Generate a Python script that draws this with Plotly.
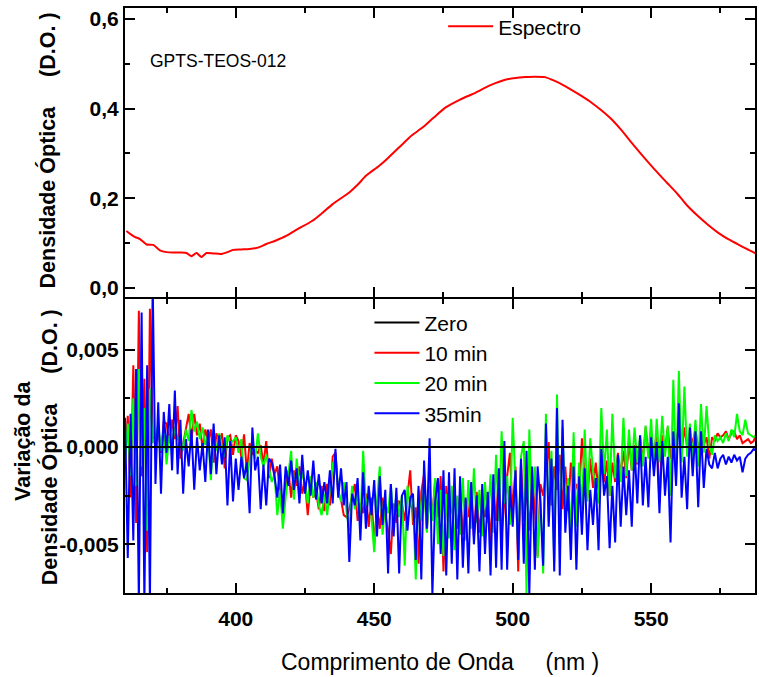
import plotly.graph_objects as go
from plotly.subplots import make_subplots

# ---------------- data ----------------
spec_nm = [360.5, 362, 363.5, 365.4, 367.8, 370.2, 372.6, 375, 377.4, 380, 382.2, 384, 385.8,
           387.6, 389.4, 392, 394.8, 397, 399, 402, 405, 408, 411, 414.5, 418.2, 422, 427.7,
           431, 435, 438, 441, 444, 447, 451.7, 455, 460.1, 463.5, 467.3, 471.5, 475.7, 481,
           486.5, 492, 497.3, 501, 504.5, 508, 511.7, 515, 518.9, 523.5, 528.5, 532, 535.7,
           539.5, 542.9, 547, 551.3, 555.5, 559.6, 563, 566.8, 570.5, 574, 577.5, 581.2, 584.5, 588]
spec_od = [0.127, 0.120, 0.114, 0.109, 0.097, 0.096, 0.084, 0.080, 0.079, 0.079, 0.078, 0.071, 0.078,
           0.069, 0.078, 0.077, 0.076, 0.080, 0.085, 0.086, 0.087, 0.090, 0.098, 0.106, 0.116, 0.130, 0.150,
           0.166, 0.187, 0.200, 0.213, 0.230, 0.250, 0.272, 0.290, 0.320, 0.340, 0.357, 0.380, 0.402, 0.420,
           0.435, 0.452, 0.464, 0.468, 0.470, 0.471, 0.470, 0.462, 0.450, 0.433, 0.413, 0.396, 0.376,
           0.350, 0.324, 0.294, 0.264, 0.236, 0.209, 0.184, 0.161, 0.141, 0.124, 0.110, 0.098, 0.087, 0.076]

# variation of optical density, in units of 1e-3 D.O., 1 nm steps from 360 nm
var_start_nm = 360
var_10min = [
    -0.5, 1.6, -2.6, 4.2, -3.9, 7.0, -1.5, 3.5, -5.4, 7.1, 0.5,
    0.4, 1.0, -0.3, 1.3, 1.2, 0.2, 1.4, 0.4, 2.1, -0.6,
    0.2, 0.9, 1.7, 0.4, 1.7, 0.6, 1.2, -0.1, 0.9, 0.3,
    0.9, -0.8, 0.7, 0.2, 0.7, -1.1, 0.5, 0.6, -0.4, 0.6,
    0.3, -0.5, 0.65, -1.3, 0.2, -0.4, -0.2, -0.3, 0.1, -0.9,
    0.3, -1.6, -0.6, -1.4, -1.0, -2.4, -3.5, -2.0, -1.2, -2.6,
    -1.2, -2.0, -1.0, -2.4, -1.8, -3.5, -1.9, -2.6, -2.3, -3.2,
    -2.0, -3.3, -1.9, -3.0, -0.5, -0.3, -2.4, -2.7, -3.5, -3.6,
    -3.2, -2.5, -1.9, -3.8, -2.9, -3.4, -2.4, -4.1, -2.6, -5.0,
    -3.1, -4.2, -2.6, -3.5, -4.3, -5.5, -2.9, -3.9, -2.8, -2.9,
    -3.8, -2.5, -1.2, -4.0, -3.1, -6.0, -2.3, -1.4, -4.3, -2.5,
    -3.5, -1.7, -3.6, -1.5, -6.4, -2.0, -3.8, -3.0, -2.2, -4.2,
    -2.4, -4.5, -2.7, -3.6, -2.1, -4.6, -2.3, -4.4, -2.9, -3.6,
    -2.5, -4.9, -2.0, -3.8, -1.3, -4.6, -2.8, -1.5, -0.3, -3.5,
    -1.0, -6.4, -0.8, -3.8, -2.0, -4.3, -1.5, -3.2, -5.6, -1.9,
    -2.5, -1.4, 0.25, -3.0, -1.0, -2.2, -0.4, -3.2, -1.0, -3.3,
    -0.8, -2.4, -1.9, -2.5, 0.45, -1.5, -2.6, -0.6, -2.1, -0.8,
    -2.3, -0.2, -1.8, -0.7, -2.5, -0.8, -1.8, -0.3, -1.4, -0.2,
    -1.6, 0.3, -1.2, 0.1, -0.9, 0.4, -0.7, 1.0, -0.3, 0.6,
    -0.5, 0.8, -2.9, 0.6, -0.2, 1.0, -0.6, 0.5, 0.1, 1.1,
    -0.3, 1.0, 0.0, 0.7, 0.2, 0.9, -0.2, 0.6, 0.1, 0.5,
    -0.6, 0.5, 0.3, 0.7, 0.5, 0.6, 0.8, 0.4, 0.7, 0.8,
    0.4, 0.6, 0.2, 0.3, 0.4, 0.2, 0.3, 0.7]
var_20min = [
    -0.8, 1.2, -1.5, 2.5, -2.0, 4.0, -1.0, 2.0, -4.3, 3.0, 0.2,
    0.5, 1.2, -0.2, 1.0, -0.9, 0.6, 0.2, 1.0, 0.4, 0.5,
    -0.2, 0.9, 0.3, 1.9, 0.8, 1.3, 0.4, 1.0, 0.1, 0.6,
    -1.7, 0.5, -0.2, 0.7, 0.0, -0.5, 0.6, 0.2, 0.3, 0.5,
    -0.3, 0.4, -1.6, -1.7, -0.8, 0.3, -0.6, 0.7, -0.5, -1.0,
    -0.4, -1.2, -1.8, -1.4, -3.5, -2.2, -4.2, -2.6, -1.5, -0.2,
    -2.7, -0.6, -2.2, -1.3, -2.0, -2.9, -1.5, -2.6, -1.8, -3.0,
    -3.5, -2.4, -3.5, -2.0, -0.9, -0.5, -2.2, -2.8, -1.8, -3.3,
    -4.3, -2.0, -3.2, -2.3, -3.9, -0.2, -3.0, -2.5, -3.6, -5.4,
    -2.8, -1.0, -4.5, -2.9, -3.4, -1.9, -4.0, -2.4, -3.6, -2.5,
    -6.1, -2.0, -3.1, -2.6, -6.8, -2.2, -3.8, -1.9, -4.4, -2.0,
    -3.8, -1.6, -5.0, -2.2, -5.6, -2.4, -4.7, -2.0, -5.3, -2.5,
    -4.5, -1.6, -4.8, -1.7, -4.2, -1.1, -3.9, -2.2, -4.6, -1.8,
    -3.9, -1.4, -4.4, -0.4, -3.8, 0.8, -2.9, -1.5, -4.0, 1.5,
    -2.2, -5.3, -0.5, 0.3, -7.6, 0.9, -3.2, -1.0, -5.7, -2.4,
    -6.5, 1.7, -3.8, -0.2, -5.9, 2.7, -5.0, 1.0, -3.4, -1.6,
    -4.7, 0.75, -4.1, -0.8, -3.2, 0.9, -2.8, 0.45, -1.2, -2.0,
    -2.9, 2.0, -1.4, 0.9, -2.5, 1.7, -1.6, -0.5, -1.8, 1.5,
    -1.5, 0.9, -1.2, 1.0, -0.8, 0.6, -1.0, 1.1, -0.6, 1.45,
    -1.2, 1.45, -0.8, 1.6, -0.5, 1.1, -2.5, 3.45, -1.6, 3.9,
    -0.8, 3.1, -0.5, 1.2, -0.6, 1.4, -1.0, 2.2, -0.3, 2.1,
    0.1, -0.4, 0.6, 0.3, 0.5, 0.2, 0.7, 0.3, 0.9, 0.5,
    1.7, 0.8, 0.6, 1.4, 0.7, 0.6, 0.5, 0.6]
var_35min = [
    1.5, -5.7, 1.7, -4.8, 4.0, -8.0, 6.9, -8.0, 4.2, -8.0, 8.5,
    -1.9, 2.3, -2.4, 1.8, -0.3, 2.2, -1.2, 2.9, -1.4, 1.4,
    -2.4, 0.4, -1.0, 0.9, -2.2, 0.5, -1.2, 0.2, -1.8, 0.9,
    -1.4, 1.2, -1.4, 0.6, -0.9, 0.5, -3.0, 0.3, -2.8, -0.6,
    -2.2, -0.5, -1.6, -0.8, -3.4, 1.0, -1.2, -0.5, -3.2, -0.9,
    -3.0, -0.6, -0.8, -1.5, -2.6, -0.9, -3.4, -1.0, -2.0, -0.7,
    -2.2, -1.1, -2.9, -0.4, -2.4, -1.2, -2.5, -0.7, -2.7, -1.4,
    -2.9, -1.8, -2.9, -1.2, -2.9, -0.1, -2.6, -1.1, -3.0, -1.8,
    -5.9, -2.4, -3.0, -1.6, -4.8, -1.3, -4.2, -2.0, -3.5, -1.7,
    -4.6, -1.5, -4.0, -2.2, -6.5, -1.9, -4.6, -2.1, -6.5, -2.5,
    -2.2, -4.3, -2.6, -2.4, -5.8, -2.0, -6.8, -0.7, -4.2, 0.45,
    -7.6, -2.8, -1.6, -5.5, -1.2, -6.6, -1.3, -6.0, -1.1, -6.8,
    -1.5, -6.2, -2.6, -6.5, -1.8, -5.0, -2.5, -6.4, -1.9, -5.5,
    -2.3, -6.6, -1.4, -6.2, -1.1, -6.3, 0.3, -6.3, -2.0, -4.1,
    -1.2, -5.8, -0.6, -6.0, -0.2, -7.6, -1.0, -6.3, -1.0, -2.8,
    -6.1, 1.2, -4.1, -0.6, -6.4, 2.0, -6.6, 1.4, -4.4, -2.0,
    -5.8, -1.0, -6.3, -1.5, -4.5, -1.1, -5.3, -2.2, -4.0, -1.6,
    -5.3, -0.1, -2.5, -1.5, -5.2, -2.0, -4.9, -0.4, -4.1, -1.0,
    -3.5, -1.2, -4.1, 0.0, -2.9, 0.6, -3.0, -0.5, -3.1, 0.5,
    -1.5, 0.25, -3.4, 0.3, -2.5, -0.5, -4.9, 0.8, -2.0, 2.25,
    -2.6, -0.5, -3.2, 1.0, -1.5, 0.8, -3.1, 0.8, -2.1, -0.1,
    -0.9, -1.1, -0.3, -1.1, -0.6, -0.4, -0.9, -0.5, -0.8, -0.4,
    -0.7, -0.5, -1.3, -0.6, -0.4, -0.3, -0.1, -0.2]

series_names = ["10 min", "20 min", "35min"]
series_colors = ["#ff0000", "#00ff00", "#0000ff"]
x_ticks = [400, 450, 500, 550]
top_y_ticks = [0.0, 0.2, 0.4, 0.6]
top_y_labels = ["0,0", "0,2", "0,4", "0,6"]
bot_y_ticks = [-0.005, 0.0, 0.005]
bot_y_labels = ["-0,005", "0,000", "0,005"]

# ---------------- figure ----------------
fig = make_subplots(rows=2, cols=1, shared_xaxes=True, vertical_spacing=0)

fig.add_trace(go.Scatter(x=spec_nm, y=spec_od, mode="lines", name="Espectro",
                         line=dict(color="#ff0000", width=2, shape="spline", smoothing=0.6),
                         legend="legend"), row=1, col=1)

for i, (name, vals, col) in enumerate(zip(series_names, [var_10min, var_20min, var_35min], series_colors)):
    xs = [var_start_nm + k for k in range(len(vals))]
    fig.add_trace(go.Scatter(x=xs, y=[v * 1e-3 for v in vals], mode="lines", name=name,
                             line=dict(color=col, width=2), legend="legend2", legendrank=i + 2),
                  row=2, col=1)

fig.add_trace(go.Scatter(x=[360, 588], y=[0, 0], mode="lines", name="Zero",
                         line=dict(color="black", width=2), legend="legend2", legendrank=1),
              row=2, col=1)

tickfont = dict(family="Liberation Sans", size=21, color="black", weight="bold")
common = dict(showline=True, linewidth=2, linecolor="black", mirror="allticks",
              ticks="inside", ticklen=10, tickwidth=2, tickcolor="black",
              showgrid=False, zeroline=False, tickfont=tickfont)

split = 295 / 585
gap = 1 / 585
fig.update_xaxes(range=[360, 587.5], tickvals=x_ticks,
                 minor=dict(ticks="inside", ticklen=5, tickwidth=2, tickcolor="black",
                            tickvals=[375, 425, 475, 525, 575]),
                 **common)
fig.update_xaxes(showticklabels=False, row=1, col=1)
fig.update_xaxes(showticklabels=True, ticklabelstandoff=6, row=2, col=1)

fig.update_yaxes(range=[-0.02, 0.624], tickvals=top_y_ticks, ticktext=top_y_labels,
                 domain=[split + gap, 1.0],
                 minor=dict(ticks="inside", ticklen=5, tickwidth=2, tickcolor="black",
                            tickvals=[0.1, 0.3, 0.5]),
                 row=1, col=1, **common)
fig.update_yaxes(range=[-0.0075, 0.0076], tickvals=bot_y_ticks, ticktext=bot_y_labels,
                 domain=[0.0, split - gap],
                 minor=dict(ticks="inside", ticklen=5, tickwidth=2, tickcolor="black",
                            tickvals=[-0.0025, 0.0025]),
                 row=2, col=1, **common)

legfont = dict(family="Liberation Sans", size=21, color="black")
fig.update_layout(
    width=759, height=677,
    margin=dict(l=125, r=2, t=8, b=84),
    paper_bgcolor="white", plot_bgcolor="white",
    separators=",.",
    legend=dict(x=0.505, y=0.968, xanchor="left", yanchor="middle", font=legfont,
                bgcolor="rgba(0,0,0,0)", itemwidth=45, tracegroupgap=0),
    legend2=dict(x=0.388, y=0.497, xanchor="left", yanchor="top", font=legfont,
                 bgcolor="rgba(0,0,0,0)", itemwidth=45, tracegroupgap=0),
    showlegend=True,
)

sp = "\u00a0" * 5
ann_font_b = dict(family="Liberation Sans", size=21.5, color="black", weight="bold")
fig.add_annotation(text="Densidade Óptica" + sp + "(D.O. )", xref="paper", yref="paper",
                   x=-0.1234, y=0.757, xanchor="center", yanchor="middle", textangle=-90,
                   showarrow=False, font=ann_font_b)
fig.add_annotation(text="Variação da", xref="paper", yref="paper",
                   x=-0.162, y=0.2615, xanchor="center", yanchor="middle", textangle=-90,
                   showarrow=False, font=ann_font_b)
fig.add_annotation(text="Densidade Óptica" + sp + "(D.O. )", xref="paper", yref="paper",
                   x=-0.1187, y=0.2496, xanchor="center", yanchor="middle", textangle=-90,
                   showarrow=False, font=ann_font_b)
fig.add_annotation(text="Comprimento de Onda" + sp + "(nm )", xref="paper", yref="paper",
                   x=0.5, y=-0.118, xanchor="center", yanchor="middle",
                   showarrow=False, font=dict(family="Liberation Sans", size=23, color="black"))
fig.add_annotation(text="GPTS-TEOS-012", xref="paper", yref="paper",
                   x=(148 - 125) / 632, y=(593 - 61) / 585, xanchor="left", yanchor="middle",
                   showarrow=False, font=dict(family="Liberation Sans", size=17.5, color="black"))

fig.write_html("out.html")
